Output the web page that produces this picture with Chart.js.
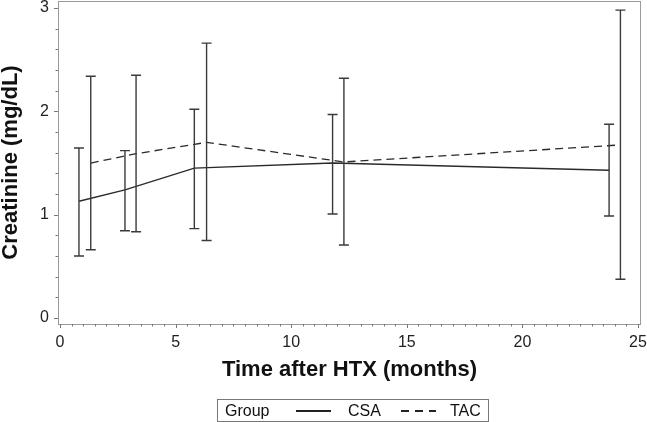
<!DOCTYPE html>
<html>
<head>
<meta charset="utf-8">
<script src="https://cdn.jsdelivr.net/npm/chart.js@4.4.1/dist/chart.umd.min.js"></script>
<style>
  html, body { margin: 0; padding: 0; background: #fff; }
  #wrap { position: relative; width: 647px; height: 422px; }
  #legenda {
    position: absolute; left: 217px; top: 399px; width: 272px; height: 23px;
    border: 1px solid #777; box-sizing: border-box;
    font: 16px "Liberation Sans", Arial, sans-serif; color: #111;
  }
  #legenda span { position: absolute; top: 1px; line-height: 19px; }
  #legenda i { position: absolute; top: 10px; height: 2px; width: 35px; }
</style>
</head>
<body>
<div id="wrap">
  <canvas id="grafico" width="647" height="422"></canvas>
  <div id="legenda">
    <span style="left:7px">Group</span>
    <i style="left:78px;background:#222"></i>
    <span style="left:130px">CSA</span>
    <i style="left:183px;background:repeating-linear-gradient(to right,#222 0 8px,transparent 8px 14px)"></i>
    <span style="left:232px">TAC</span>
  </div>
</div>
<script>
// Creatinina ao longo do tempo apos HTX, media e barras de erro por grupo
const mesesCsa = [0.82, 2.81, 5.81, 11.79, 23.75];
const mediaCsa = [1.13, 1.24, 1.45, 1.50, 1.43];
const infCsa = [0.60, 0.845, 0.865, 1.007, 0.987];
const supCsa = [1.645, 1.62, 2.02, 1.97, 1.875];

const mesesTac = [1.33, 3.29, 6.34, 12.28, 24.24];
const mediaTac = [1.50, 1.59, 1.70, 1.51, 1.675];
const infTac = [0.66, 0.835, 0.75, 0.707, 0.375];
const supTac = [2.34, 2.35, 2.66, 2.32, 2.98];

const ticksX = [0, 5, 10, 15, 20, 25];
const ticksY = [0, 1, 2, 3];

const fonte = '"Liberation Sans", Arial, sans-serif';

// barras de erro, moldura e marcas dos eixos
const extras = {
  id: 'extras',
  afterDatasetsDraw(chart) {
    const ctx = chart.ctx;
    const sx = chart.scales.x, sy = chart.scales.y;
    const area = chart.chartArea;

    ctx.save();
    ctx.strokeStyle = '#3a3a3a';
    ctx.lineWidth = 1.4;
    const barras = (xs, inf, sup) => {
      xs.forEach((m, i) => {
        const px = sx.getPixelForValue(m);
        const y1 = sy.getPixelForValue(inf[i]);
        const y2 = sy.getPixelForValue(sup[i]);
        ctx.beginPath();
        ctx.moveTo(px, y1); ctx.lineTo(px, y2);
        ctx.moveTo(px - 5, y1); ctx.lineTo(px + 5, y1);
        ctx.moveTo(px - 5, y2); ctx.lineTo(px + 5, y2);
        ctx.stroke();
      });
    };
    barras(mesesCsa, infCsa, supCsa);
    barras(mesesTac, infTac, supTac);

    // moldura
    ctx.strokeStyle = '#9a9a9a';
    ctx.lineWidth = 1;
    ctx.strokeRect(area.left + 0.5, area.top + 0.5, area.right - area.left - 1, area.bottom - area.top);

    // marcas
    ctx.strokeStyle = '#777';
    ctx.beginPath();
    for (let v = 0; v <= 25.001; v += 0.5) {
      const px = Math.round(sx.getPixelForValue(v)) + 0.5;
      const len = Math.abs(v % 5) < 0.01 ? 4 : 2.5;
      ctx.moveTo(px, area.bottom); ctx.lineTo(px, area.bottom + len);
    }
    for (let v = 0; v <= 3.001; v += 0.2) {
      const py = Math.round(sy.getPixelForValue(v)) + 0.5;
      const maior = Math.abs(v - Math.round(v)) < 0.01;
      ctx.moveTo(area.left, py); ctx.lineTo(area.left - (maior ? 4 : 2.5), py);
    }
    ctx.stroke();
    ctx.restore();
  }
};

const semMargem = s => { s.paddingLeft = 0; s.paddingRight = 0; s.paddingTop = 0; s.paddingBottom = 0; };

new Chart(document.getElementById('grafico'), {
  type: 'scatter',
  data: {
    datasets: [
      {
        label: 'CSA',
        data: mesesCsa.map((m, i) => ({ x: m, y: mediaCsa[i] })),
        showLine: true,
        borderColor: '#2a2a2a',
        borderWidth: 1.3,
        pointRadius: 0,
        fill: false
      },
      {
        label: 'TAC',
        data: mesesTac.map((m, i) => ({ x: m, y: mediaTac[i] })),
        showLine: true,
        borderColor: '#2a2a2a',
        borderWidth: 1.3,
        borderDash: [8, 5],
        pointRadius: 0,
        fill: false
      }
    ]
  },
  options: {
    responsive: false,
    animation: false,
    devicePixelRatio: 1,
    layout: { padding: { top: 1, right: 6, left: 0, bottom: 0 } },
    plugins: { legend: { display: false }, tooltip: { enabled: false } },
    scales: {
      x: {
        type: 'linear',
        min: -0.0865,
        max: 25.13,
        afterBuildTicks: s => { s.ticks = ticksX.map(v => ({ value: v })); },
        afterFit: s => { s.height = 98; semMargem(s); },
        ticks: { color: '#222', font: { family: fonte, size: 16 }, padding: 9, maxRotation: 0 },
        grid: { display: true, drawOnChartArea: false, drawTicks: false },
        border: { display: false },
        title: {
          display: true,
          text: 'Time after HTX (months)',
          color: '#111',
          font: { family: fonte, size: 22, weight: 'bold' },
          padding: { top: 0, bottom: 39 }
        }
      },
      y: {
        type: 'linear',
        min: -0.058,
        max: 3.068,
        afterBuildTicks: s => { s.ticks = ticksY.map(v => ({ value: v })); },
        afterFit: s => { s.width = 58; semMargem(s); },
        ticks: { color: '#222', font: { family: fonte, size: 16 }, padding: 9 },
        grid: { display: true, drawOnChartArea: false, drawTicks: false },
        border: { display: false },
        title: {
          display: true,
          text: 'Creatinine (mg/dL)',
          color: '#111',
          font: { family: fonte, size: 22, weight: 'bold' },
          padding: { top: -2, bottom: 0 }
        }
      }
    }
  },
  plugins: [extras]
});
</script>
</body>
</html>
